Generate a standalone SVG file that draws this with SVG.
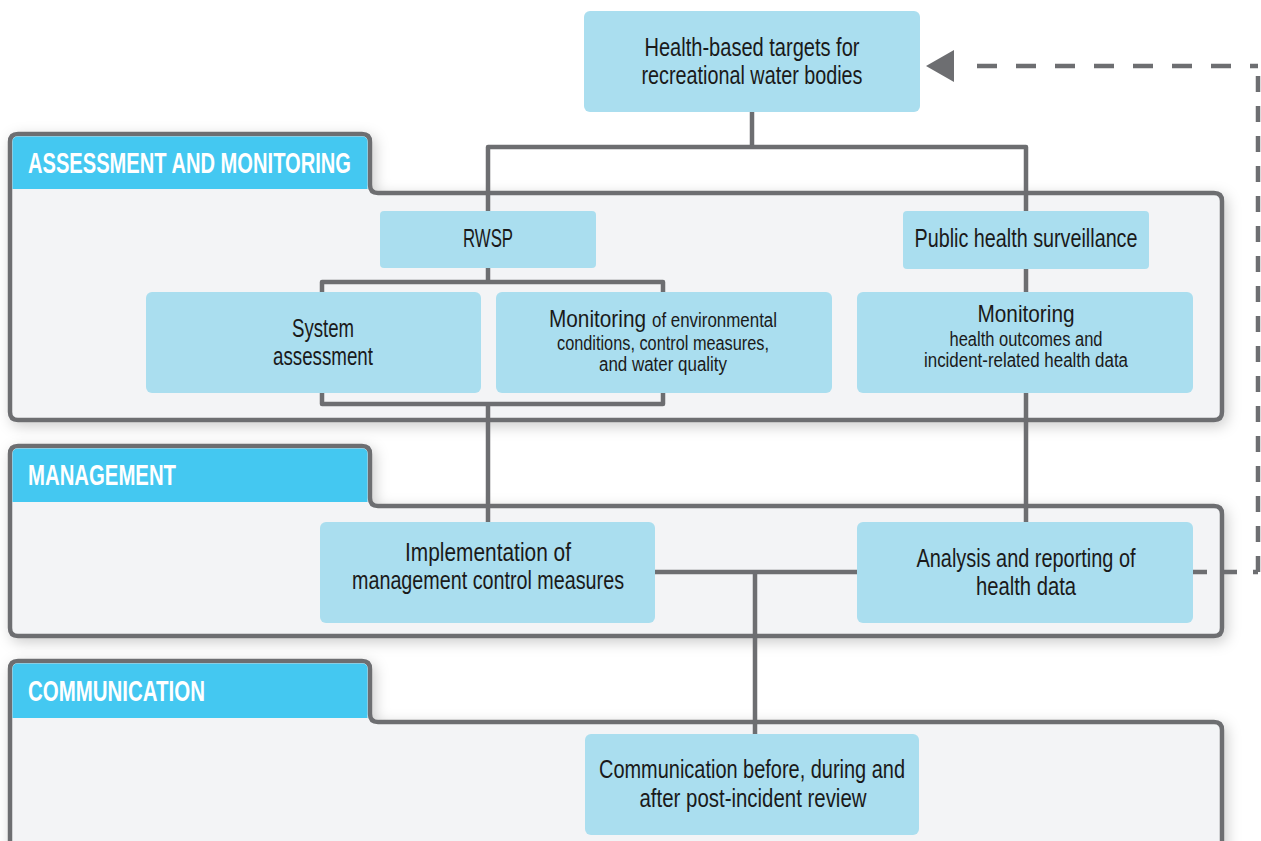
<svg xmlns="http://www.w3.org/2000/svg" width="1261" height="841" viewBox="0 0 1261 841">
<defs>
<filter id="sh" x="-5%" y="-15%" width="112%" height="140%">
<feDropShadow dx="3" dy="4" stdDeviation="7" flood-color="#000" flood-opacity="0.2"/>
</filter>
<style>
.panel{fill:#f3f4f6;stroke:#6d6e71;stroke-width:4.5;stroke-linejoin:round}
.tab{fill:#44c8f1}
.tabtxt{font-family:"Liberation Sans",Arial,sans-serif;font-weight:bold;font-size:29px;fill:#ffffff}
.node{fill:#aadeef}
.t{font-family:"Liberation Sans",Arial,sans-serif;font-size:25px;fill:#1a1a1a;text-anchor:middle}
.m{font-family:"Liberation Sans",Arial,sans-serif;font-size:24px;fill:#1a1a1a;text-anchor:middle}
.s{font-family:"Liberation Sans",Arial,sans-serif;font-size:20px;fill:#1a1a1a;text-anchor:middle}
.ln{fill:none;stroke:#6d6e71;stroke-width:4.5;stroke-linejoin:round}
.dash{fill:none;stroke:#6d6e71;stroke-width:4.5}
</style>
</defs>
<rect width="1261" height="841" fill="#ffffff"/>

<g id="panel-assessment">
<path class="panel" filter="url(#sh)" d="M10 412 V142 Q10 134 18 134 H362 Q370 134 370 142 V185 Q370 193 378 193 H1214 Q1222 193 1222 201 V412 Q1222 420 1214 420 H18 Q10 420 10 412 Z"/>
<path class="tab" d="M12.5 189 V142 Q12.5 136.5 18 136.5 H362 Q367.5 136.5 367.5 142 V189 Z"/>
<text class="tabtxt" x="28" y="173" textLength="323" lengthAdjust="spacingAndGlyphs">ASSESSMENT AND MONITORING</text>
</g>

<g id="panel-management">
<path class="panel" filter="url(#sh)" d="M10 628 V454 Q10 446 18 446 H362 Q370 446 370 454 V498 Q370 506 378 506 H1214 Q1222 506 1222 514 V628 Q1222 636 1214 636 H18 Q10 636 10 628 Z"/>
<path class="tab" d="M12.5 502 V454 Q12.5 448.5 18 448.5 H362 Q367.5 448.5 367.5 454 V502 Z"/>
<text class="tabtxt" x="28" y="485" textLength="148" lengthAdjust="spacingAndGlyphs">MANAGEMENT</text>
</g>

<g id="panel-communication">
<path class="panel" filter="url(#sh)" d="M10 892 V669 Q10 661 18 661 H362 Q370 661 370 669 V714 Q370 722 378 722 H1214 Q1222 722 1222 730 V892 Q1222 900 1214 900 H18 Q10 900 10 892 Z"/>
<path class="tab" d="M12.5 718 V669 Q12.5 663.5 18 663.5 H362 Q367.5 663.5 367.5 669 V718 Z"/>
<text class="tabtxt" x="28" y="701" textLength="177" lengthAdjust="spacingAndGlyphs">COMMUNICATION</text>
</g>

<g id="connectors">
<path class="ln" d="M752 112 V147"/>
<path class="ln" d="M488 211 V147 H1026 V211"/>
<path class="ln" d="M1026 269 V292"/>
<path class="ln" d="M488 268 V282"/>
<path class="ln" d="M322 282 H663 V404 H322 Z"/>
<path class="ln" d="M488 404 V522"/>
<path class="ln" d="M1026 393 V522"/>
<path class="ln" d="M655 572 H857"/>
<path class="ln" d="M755 572 V735"/>
<path class="dash" d="M1193 572 H1258" stroke-dasharray="14 16"/>
<path class="dash" d="M1258 572 V66" stroke-dasharray="16 14"/>
<path class="dash" d="M977 66 H1258" stroke-dasharray="20 19"/>
<path d="M926 66 L954 50 L954 82 Z" fill="#6d6e71"/>
</g>

<g id="node-targets">
<rect class="node" x="584" y="11" width="336" height="101" rx="6"/>
<text class="t" x="752" y="56" textLength="215" lengthAdjust="spacingAndGlyphs">Health-based targets for</text>
<text class="t" x="752" y="84" textLength="221" lengthAdjust="spacingAndGlyphs">recreational water bodies</text>
</g>

<g id="node-rwsp">
<rect class="node" x="380" y="211" width="216" height="57" rx="4"/>
<text class="t" x="488" y="247" textLength="50" lengthAdjust="spacingAndGlyphs">RWSP</text>
</g>

<g id="node-surveillance">
<rect class="node" x="903" y="211" width="246" height="58" rx="4"/>
<text class="t" x="1026" y="247" textLength="223" lengthAdjust="spacingAndGlyphs">Public health surveillance</text>
</g>

<g id="node-system">
<rect class="node" x="146" y="292" width="335" height="101" rx="6"/>
<text class="t" x="323" y="337" textLength="62" lengthAdjust="spacingAndGlyphs">System</text>
<text class="t" x="323" y="365" textLength="100" lengthAdjust="spacingAndGlyphs">assessment</text>
</g>

<g id="node-monitoring-env">
<rect class="node" x="496" y="292" width="336" height="101" rx="6"/>
<text style="font-family:'Liberation Sans',Arial,sans-serif;fill:#1a1a1a" y="327"><tspan x="549" font-size="24" textLength="97" lengthAdjust="spacingAndGlyphs">Monitoring</tspan><tspan x="652" font-size="20" textLength="125" lengthAdjust="spacingAndGlyphs">of environmental</tspan></text>
<text class="s" x="663" y="350" textLength="212" lengthAdjust="spacingAndGlyphs">conditions, control measures,</text>
<text class="s" x="663" y="371" textLength="128" lengthAdjust="spacingAndGlyphs">and water quality</text>
</g>

<g id="node-monitoring-health">
<rect class="node" x="857" y="292" width="336" height="101" rx="6"/>
<text class="m" x="1026" y="322" textLength="97" lengthAdjust="spacingAndGlyphs">Monitoring</text>
<text class="s" x="1026" y="346" textLength="153" lengthAdjust="spacingAndGlyphs">health outcomes and</text>
<text class="s" x="1026" y="367" textLength="204" lengthAdjust="spacingAndGlyphs">incident-related health data</text>
</g>

<g id="node-implementation">
<rect class="node" x="320" y="522" width="335" height="101" rx="6"/>
<text class="t" x="488" y="561" textLength="166" lengthAdjust="spacingAndGlyphs">Implementation of</text>
<text class="t" x="488" y="589" textLength="272" lengthAdjust="spacingAndGlyphs">management control measures</text>
</g>

<g id="node-analysis">
<rect class="node" x="857" y="522" width="336" height="101" rx="6"/>
<text class="t" x="1026" y="567" textLength="219" lengthAdjust="spacingAndGlyphs">Analysis and reporting of</text>
<text class="t" x="1026" y="595" textLength="100" lengthAdjust="spacingAndGlyphs">health data</text>
</g>

<g id="node-communication">
<rect class="node" x="585" y="734" width="334" height="101" rx="6"/>
<text class="t" x="752" y="778" textLength="306" lengthAdjust="spacingAndGlyphs">Communication before, during and</text>
<text class="t" x="753" y="807" textLength="227" lengthAdjust="spacingAndGlyphs">after post-incident review</text>
</g>
</svg>
